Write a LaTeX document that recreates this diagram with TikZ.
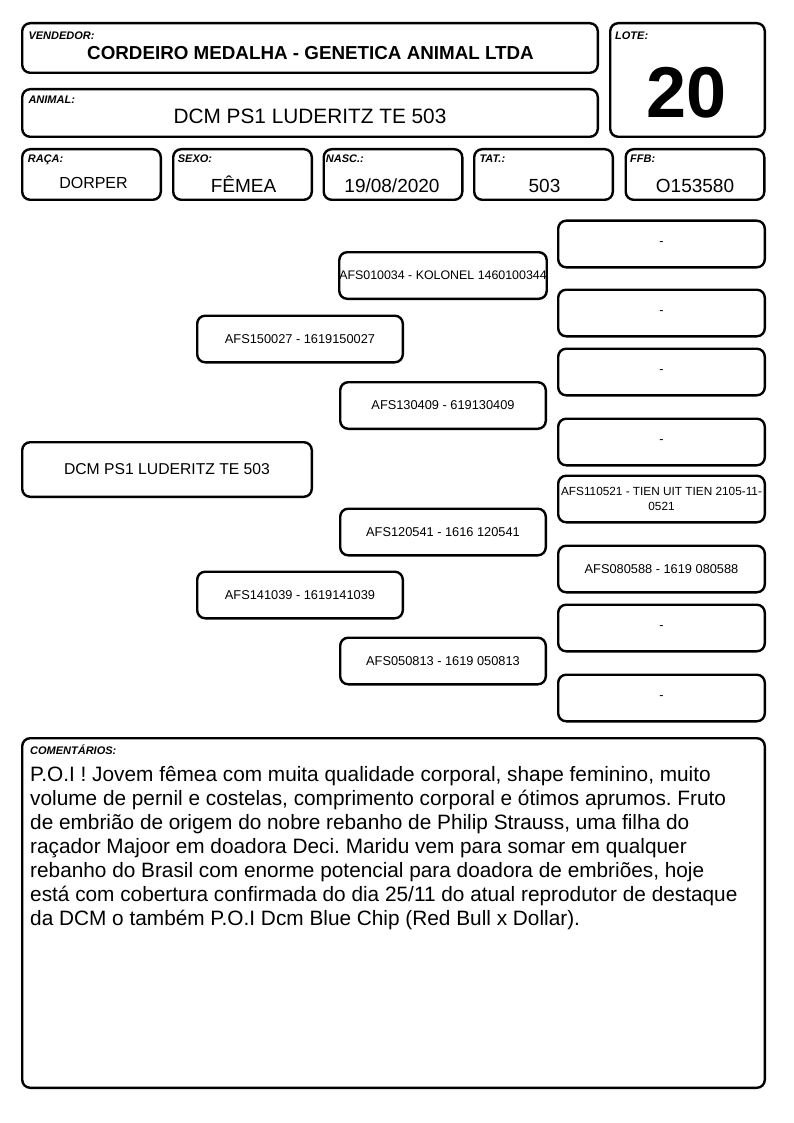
\documentclass[tikz,border=0pt]{standalone}
\usepackage{fontspec}
\setmainfont{Liberation Sans}
\usepackage{tikz}
\usetikzlibrary{positioning}
\frenchspacing

\begin{document}
\begin{tikzpicture}[
    x=1pt, y=-1pt,
    cardBox/.style={draw=black, line width=2.4pt, rounded corners=8pt, inner sep=0pt, align=center},
    fieldTag/.style={anchor=north west, inner sep=0pt, font=\fontsize{11}{12}\selectfont\bfseries\itshape},
    fieldVal/.style={anchor=base, inner sep=0pt, font=\fontsize{19}{22}\selectfont},
    smallBox/.style={cardBox, minimum width=138.6pt, minimum height=50.6pt},
    pedNode/.style={cardBox, minimum width=205.6pt, minimum height=46.6pt, font=\fontsize{12.8}{15}\selectfont},
    ggNode/.style={cardBox, minimum width=206.6pt, minimum height=46.6pt, font=\fontsize{12.8}{15}\selectfont}
]
    \useasboundingbox (0,0) rectangle (794,1123);

    % Header
    \node[cardBox, minimum width=575.6pt, minimum height=49.6pt] (vendor) at (310,48) {};
    \node[cardBox, minimum width=154.6pt, minimum height=113.6pt] (lote) at (687.5,80) {};
    \node[cardBox, minimum width=575.6pt, minimum height=47.6pt] (animal) at (310,113) {};

    \node[fieldTag] (vendorTag) at (28.3,31.5) {VENDEDOR:};
    \node[fieldTag] (loteTag) at (615,31.5) {LOTE:};
    \node[fieldTag] (animalTag) at (28.3,96) {ANIMAL:};

    \node[fieldVal, font=\fontsize{18.8}{22}\selectfont\bfseries] (vendorVal) at (310.5,60) {CORDEIRO MEDALHA - GENETICA ANIMAL LTDA};
    \node[fieldVal, font=\fontsize{72}{80}\selectfont\bfseries] (loteVal) at (687,117.7) {20};
    \node[fieldVal, font=\fontsize{20.8}{24}\selectfont] (animalVal) at (310,123.3) {DCM PS1 LUDERITZ TE 503};

    % Data fields
    \node[smallBox] (raca) at (91.5,174.5) {};
    \node[smallBox] (sexo) at (242.5,174.5) {};
    \node[smallBox] (nasc) at (393,174.5) {};
    \node[smallBox] (tat)  at (543.5,174.5) {};
    \node[smallBox] (ffb)  at (695,174.5) {};

    \node[fieldTag] (racaTag) at (27.7,155) {RAÇA:};
    \node[fieldTag] (sexoTag) at (177.7,155) {SEXO:};
    \node[fieldTag] (nascTag) at (325.7,155) {NASC.:};
    \node[fieldTag] (tatTag)  at (479.3,155) {TAT.:};
    \node[fieldTag] (ffbTag)  at (630,155) {FFB:};

    \node[fieldVal, font=\fontsize{16}{19}\selectfont] (racaVal) at (93.5,188.3) {DORPER};
    \node[fieldVal] (sexoVal) at (243.5,192.5) {FÊMEA};
    \node[fieldVal] (nascVal) at (392,192.5) {19/08/2020};
    \node[fieldVal] (tatVal)  at (544.5,192.5) {503};
    \node[fieldVal] (ffbVal)  at (695,192.5) {O153580};

    % Pedigree
    \node[cardBox, minimum width=289.6pt, minimum height=54.6pt, font=\fontsize{15.7}{18}\selectfont] (pedAnimal) at (167,469.5) {DCM PS1 LUDERITZ TE 503};

    \node[pedNode] (sire) at (300,339) {AFS150027 - 1619150027};
    \node[pedNode] (dam)  at (300,595) {AFS141039 - 1619141039};

    \node[pedNode, font=\fontsize{12.4}{15}\selectfont] (sireSire) at (443,275.5) {AFS010034 - KOLONEL 1460100344};
    \node[pedNode] (sireDam)  at (443,405.5) {AFS130409 - 619130409};
    \node[pedNode] (damSire)  at (443,532)   {AFS120541 - 1616 120541};
    \node[pedNode] (damDam)   at (443,661)   {AFS050813 - 1619 050813};

    \node[ggNode] (gg1) at (661.5,244) {-};
    \node[ggNode] (gg2) at (661.5,313) {-};
    \node[ggNode] (gg3) at (661.5,372) {-};
    \node[ggNode] (gg4) at (661.5,442) {-};
    \node[ggNode, font=\fontsize{11.8}{15}\selectfont] (gg5) at (661.5,499) {AFS110521 - TIEN UIT TIEN 2105-11-\\0521};
    \node[ggNode] (gg6) at (661.5,569) {AFS080588 - 1619 080588};
    \node[ggNode] (gg7) at (661.5,628) {-};
    \node[ggNode] (gg8) at (661.5,698) {-};

    % Comments
    \node[cardBox, minimum width=742.6pt, minimum height=349.6pt] (comments) at (393.5,913) {};
    \node[fieldTag] (commentsTag) at (30,745) {COMENTÁRIOS:};
    \node[anchor=north west, inner sep=0pt, align=left, font=\fontsize{20.8}{24}\selectfont] (commentsText) at (30,766) {%
        P.O.I ! Jovem fêmea com muita qualidade corporal, shape feminino, muito\\
        volume de pernil e costelas, comprimento corporal e ótimos aprumos. Fruto\\
        de embrião de origem do nobre rebanho de Philip Strauss, uma filha do\\
        raçador Majoor em doadora Deci. Maridu vem para somar em qualquer\\
        rebanho do Brasil com enorme potencial para doadora de embriões, hoje\\
        está com cobertura confirmada do dia 25/11 do atual reprodutor de destaque\\
        da DCM o também P.O.I Dcm Blue Chip (Red Bull x Dollar).};
\end{tikzpicture}
\end{document}
